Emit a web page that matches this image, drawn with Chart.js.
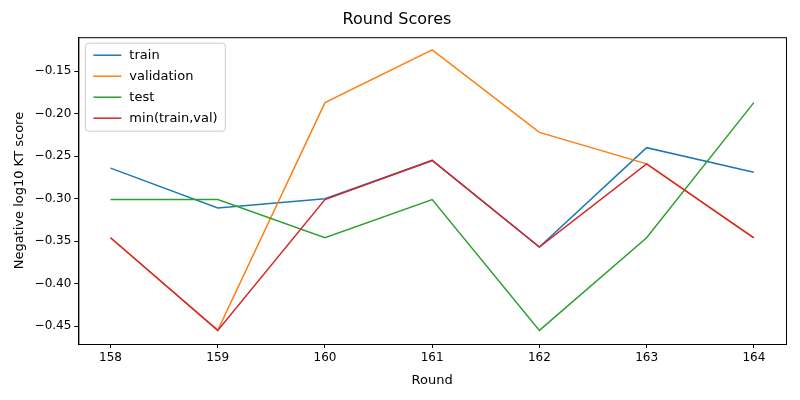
<!DOCTYPE html>
<html><head><meta charset="utf-8">
<script src="https://cdn.jsdelivr.net/npm/chart.js@4"></script>
<style>html,body{margin:0;background:#fff}#w{width:800px;height:400px}</style>
</head><body><div id="w"><canvas id="c"></canvas></div>
<script>
const rounds=[158,159,160,161,162,163,164];
const train=[-0.264,-0.311,-0.300,-0.255,-0.357,-0.240,-0.269];
const validation=[-0.346,-0.455,-0.187,-0.125,-0.222,-0.259,-0.346];
const test=[-0.301,-0.301,-0.346,-0.301,-0.455,-0.346,-0.187];
const minTV=[-0.346,-0.455,-0.301,-0.255,-0.357,-0.259,-0.346];
const yTicks=[-0.45,-0.40,-0.35,-0.30,-0.25,-0.20,-0.15];
const mk=(l,d,c,o)=>({label:l,order:o,data:rounds.map((x,i)=>({x,y:d[i]})),borderColor:c,backgroundColor:c,borderWidth:1.5,pointRadius:0,tension:0});
Chart.defaults.font.family='DejaVu Sans';
Chart.defaults.color='#000';
const gridOpt={drawOnChartArea:false,drawTicks:true,tickLength:4,color:'#000'};
new Chart(document.getElementById('c'),{type:'line',
data:{datasets:[mk('train',train,'#1f77b4',3),mk('validation',validation,'#ff7f0e',2),mk('test',test,'#2ca02c',1),mk('min(train,val)',minTV,'#d62728',0)]},
options:{responsive:true,maintainAspectRatio:false,animation:false,
layout:{padding:{left:8,right:14,top:4,bottom:8}},
plugins:{title:{display:true,text:'Round Scores',font:{size:16,weight:'normal'},padding:{top:6,bottom:8}},
legend:{display:false}},
scales:{x:{type:'linear',min:157.7,max:164.3,grid:gridOpt,border:{color:'#000'},
afterBuildTicks:a=>{a.ticks=rounds.map(v=>({value:v}));},
ticks:{font:{size:12},callback:v=>String(v)},title:{display:true,text:'Round',font:{size:13}}},
y:{min:-0.471,max:-0.110,grid:gridOpt,border:{color:'#000'},
afterBuildTicks:a=>{a.ticks=yTicks.map(v=>({value:v}));},
ticks:{font:{size:12},callback:v=>'\u2212'+Math.abs(v).toFixed(2)},title:{display:true,text:'Negative log10 KT score',font:{size:13}}}}},
plugins:[{id:'leg',afterDraw(ch){const c=ch.ctx,a=ch.chartArea;
c.save();c.strokeStyle='#000';c.lineWidth=1;c.strokeRect(a.left+0.5,a.top+0.5,a.right-a.left,a.bottom-a.top);
const x=a.left+7,y=a.top+6,w=140,h=88;
c.fillStyle='rgba(255,255,255,0.8)';c.strokeStyle='#ccc';c.beginPath();c.roundRect(x,y,w,h,3);c.fill();c.stroke();
c.font='13px DejaVu Sans';c.textBaseline='middle';
ch.data.datasets.forEach((d,i)=>{const yy=y+12+i*21;c.strokeStyle=d.borderColor;c.lineWidth=1.5;c.beginPath();c.moveTo(x+8,yy);c.lineTo(x+36,yy);c.stroke();c.fillStyle='#000';c.fillText(d.label,x+44,yy);});
c.restore();}}]
});
</script></body></html>
